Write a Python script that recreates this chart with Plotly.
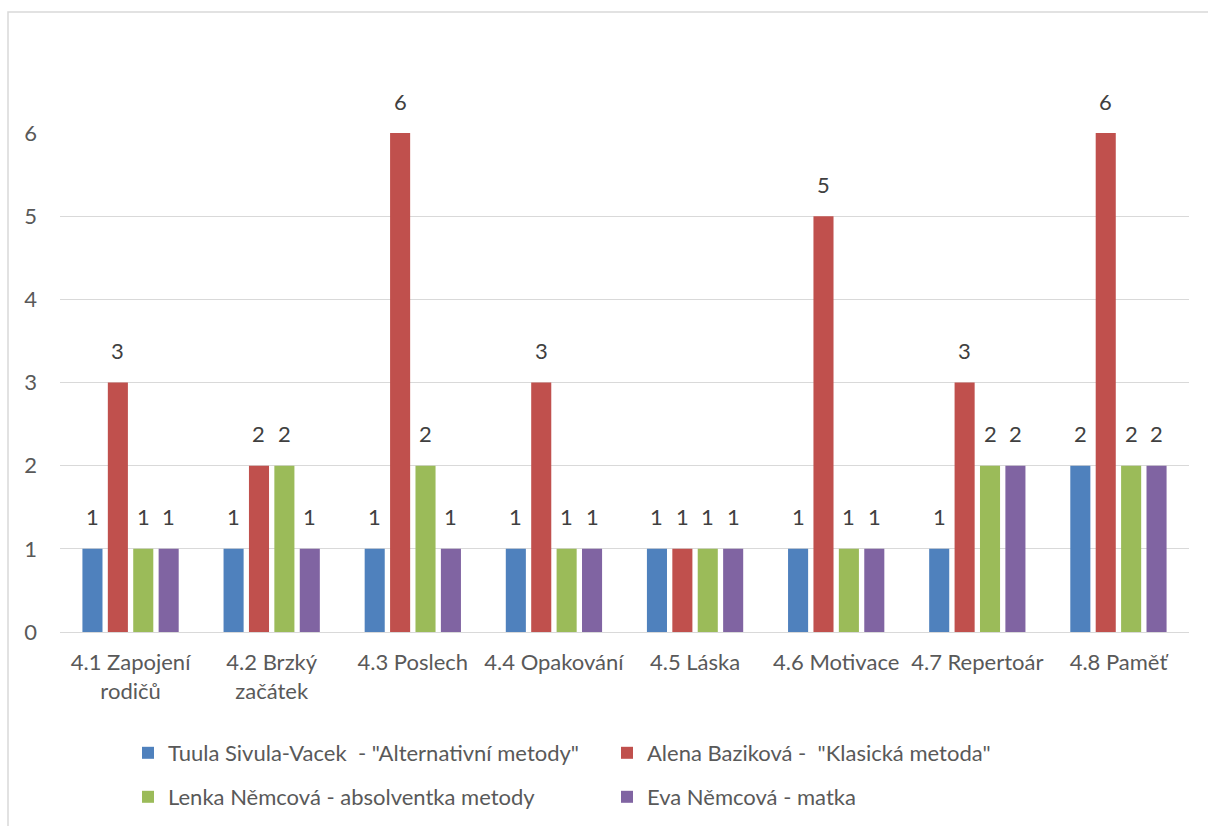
import plotly.graph_objects as go

categories = ["4.1 Zapojení<br>rodičů", "4.2 Brzký<br>začátek", "4.3 Poslech", "4.4 Opakování",
              "4.5 Láska", "4.6 Motivace", "4.7 Repertoár", "4.8 Paměť"]
series_names = ['Tuula Sivula-Vacek  - "Alternativní metody"',
                'Alena Baziková -  "Klasická metoda"',
                'Lenka Němcová - absolventka metody',
                'Eva Němcová - matka']
tuula = [1, 1, 1, 1, 1, 1, 1, 2]
alena = [3, 2, 6, 3, 1, 5, 3, 6]
lenka = [1, 2, 2, 1, 1, 1, 2, 2]
eva = [1, 1, 1, 1, 1, 1, 2, 2]
y_ticks = [0, 1, 2, 3, 4, 5, 6]

colors = ["#4F81BD", "#C0504D", "#9BBB59", "#8064A2"]
all_vals = [tuula, alena, lenka, eva]
legends = ["legend", "legend", "legend2", "legend2"]

FONT = "Lato"
FS = 22
bargap = 0.28

fig = go.Figure()
for name, vals, col, lg in zip(series_names, all_vals, colors, legends):
    fig.add_trace(go.Bar(x=categories, y=vals, name=name, marker_color=col,
                         marker_line_width=0, legend=lg))

slot = (1 - bargap) / 4
for i, vals in enumerate(all_vals):
    for k, v in enumerate(vals):
        fig.add_annotation(x=k + (i - 1.5) * slot, y=v, text=str(v), showarrow=False,
                           yshift=32, font=dict(family=FONT, size=FS, color="#404040"))

# outer chart border
L, R, T, B = 60, 19, 133, 194
pw = 1208 - L - R
ph = 826 - T - B
fig.add_shape(type="rect", xref="paper", yref="paper",
              x0=(8 - L) / pw, x1=(1230 - L) / pw,
              y0=(632 - 850) / ph, y1=(632 - 12) / ph,
              line=dict(color="#D9D9D9", width=1.5), fillcolor="rgba(0,0,0,0)", layer="below")

leg_common = dict(orientation="h", xanchor="left", yanchor="middle",
                  entrywidth=434, entrywidthmode="pixels",
                  font=dict(family=FONT, size=FS, color="#595959"), bgcolor="rgba(0,0,0,0)")

fig.update_layout(
    width=1208, height=826,
    margin=dict(l=L, r=R, t=T, b=B, autoexpand=False),
    paper_bgcolor="white", plot_bgcolor="white",
    barmode="group", bargap=bargap, bargroupgap=0.21,
    font=dict(family=FONT, size=FS, color="#595959"),
    legend=dict(x=(128 - L) / pw, y=(632 - 753) / ph, **leg_common),
    legend2=dict(x=(128 - L) / pw, y=(632 - 797) / ph, **leg_common),
    xaxis=dict(showgrid=False, showline=False, ticks="", ticklabelstandoff=15,
               tickfont=dict(family=FONT, size=FS, color="#595959")),
    yaxis=dict(range=[0, 6], tickvals=y_ticks, showgrid=True, gridcolor="#D9D9D9", gridwidth=1,
               zeroline=True, zerolinecolor="#D9D9D9", zerolinewidth=1, showline=False, ticks="",
               ticklabelstandoff=22, tickfont=dict(family=FONT, size=FS, color="#595959")),
)

fig.write_html("out.html")
